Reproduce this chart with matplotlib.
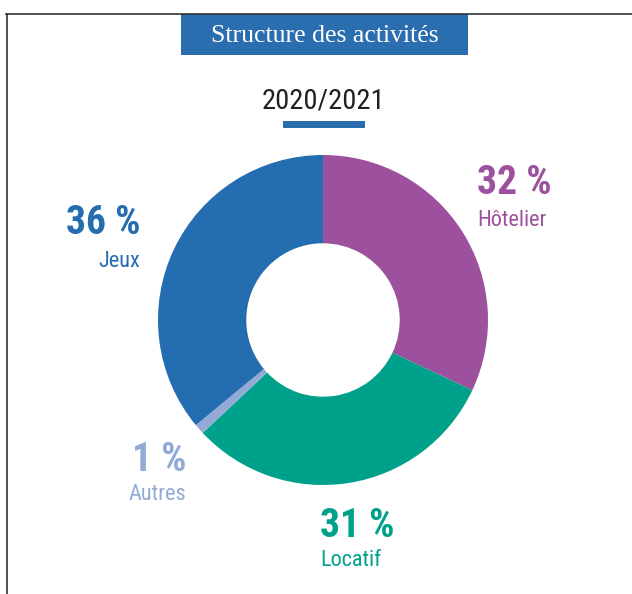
import matplotlib
matplotlib.use("Agg")
import matplotlib.pyplot as plt
from matplotlib.patches import Rectangle
from matplotlib.lines import Line2D

# data
labels = ["Hôtelier", "Locatif", "Autres", "Jeux"]
values = [32, 31, 1, 36]
color_list = ["#9c509d", "#00a18b", "#93aad6", "#236db0"]
title = "Structure des activités"
period = "2020/2021"

W, H = 632, 594
narrow = ["Roboto Condensed", "DejaVu Sans"]


def fx(x):
    return x / W


def fy(y):
    return 1 - y / H


fig = plt.figure(figsize=(W / 100, H / 100), dpi=100)

# frame (left + top)
fig.add_artist(Line2D([fx(6.5), fx(6.5)], [fy(14), fy(594)], color="#333333", lw=1.2))
fig.add_artist(Line2D([fx(6), fx(632)], [fy(14), fy(14)], color="#333333", lw=1.2))

# title box
fig.add_artist(Rectangle((fx(181), fy(55)), fx(468) - fx(181), fy(14) - fy(55),
                         transform=fig.transFigure, color="#2a6eb0", lw=0))
fig.text(fx(324.5), fy(35.5), title, color="white", ha="center", va="center",
         family=["Liberation Serif", "DejaVu Serif"], fontsize=18.5)

fig.text(fx(323), fy(108), period, color="#231f20", ha="center", va="baseline",
         family=narrow, fontsize=20.5)
fig.add_artist(Rectangle((fx(283), fy(128)), fx(365) - fx(283), fy(121) - fy(128),
                         transform=fig.transFigure, color="#2a6eb0", lw=0))

# donut
cx, cy, r = 323, 320, 165
ax = fig.add_axes([fx(cx - r), fy(cy + r), (2 * r) / W, (2 * r) / H])
ax.pie(values, colors=color_list, startangle=90, counterclock=False,
       wedgeprops=dict(width=0.535, edgecolor="none"))
ax.set_xlim(-1, 1)
ax.set_ylim(-1, 1)
ax.axis("off")

# labels: (x, baseline pct, baseline name, ha)
label_pos = [(477, 194, 226, "left"),
             (320, 537, 566, "left"),
             (186, 471, 500, "right"),
             (140, 234, 267, "right")]
for lab, val, col, (x, y1, y2, ha) in zip(labels, values, color_list, label_pos):
    fig.text(fx(x), fy(y1), "%d %%" % val, color=col, ha=ha, va="baseline",
             family=narrow, fontsize=28.5, fontweight="bold")
    fig.text(fx(x), fy(y2), lab, color=col, ha=ha, va="baseline",
             family=narrow, fontsize=16)

fig.savefig("out.png", dpi=100)
